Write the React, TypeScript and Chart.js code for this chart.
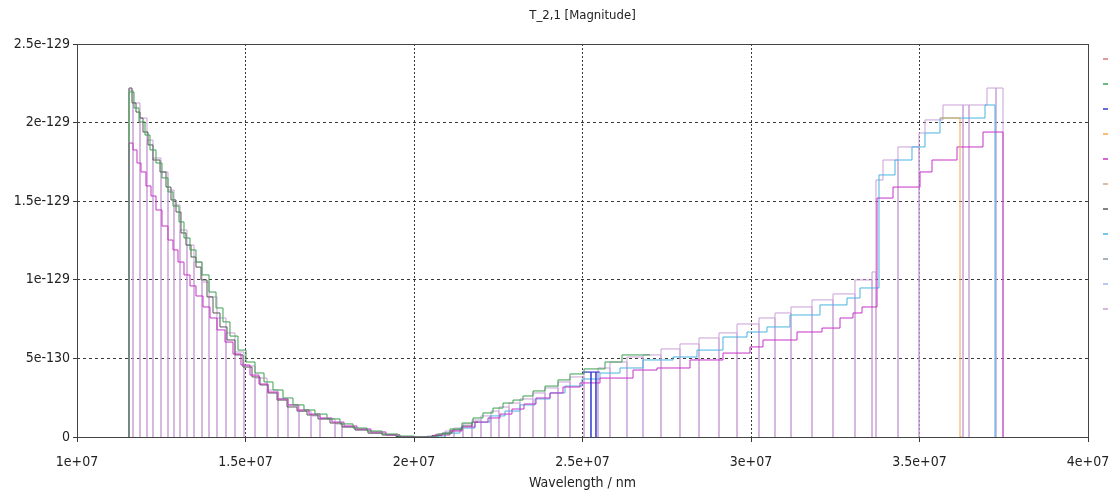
import React, { useEffect, useRef } from "react";
import { Chart, registerables } from "chart.js";

Chart.register(...registerables);

const TITLE = "T_2,1 [Magnitude]";
const X_TITLE = "Wavelength / nm";
const X_TICKS = [1e7, 1.5e7, 2e7, 2.5e7, 3e7, 3.5e7, 4e7];
const X_TICK_LABELS = ["1e+07", "1.5e+07", "2e+07", "2.5e+07", "3e+07", "3.5e+07", "4e+07"];
const Y_TICKS = [0, 5e-130, 1e-129, 1.5e-129, 2e-129, 2.5e-129];
const Y_TICK_LABELS = ["0", "5e-130", "1e-129", "1.5e-129", "2e-129", "2.5e-129"];

const SERIES_COLORS = [
  "#d87878", "#3ca050", "#2d3ccc", "#f0a848", "#c832c8", "#c8a890",
  "#585858", "#4ab4e0", "#8c9aa8", "#a8b4e8", "#c9a0d6",
];

// Dark gray series (step starts)
const GRAY_X = [
  1.1513e7, 1.1543e7, 1.1632e7, 1.1751e7, 1.1869e7, 1.1958e7, 1.2107e7, 1.2255e7, 1.2463e7, 1.2641e7,
  1.2789e7, 1.2938e7, 1.3086e7, 1.3234e7, 1.3383e7, 1.3531e7, 1.3680e7, 1.3858e7, 1.4036e7, 1.4243e7,
  1.4451e7, 1.4688e7, 1.4926e7, 1.5193e7, 1.5430e7, 1.5668e7, 1.5935e7, 1.6232e7, 1.6528e7, 1.6825e7,
  1.7151e7, 1.7508e7, 1.7864e7, 1.8249e7, 1.8635e7, 1.9051e7, 1.9466e7, 1.9881e7,
  2.0237e7, 2.0534e7, 2.0831e7, 2.1128e7, 2.1424e7, 2.1721e7, 2.1900e7,
];
const GRAY_Y = [
  0, 22.2e-130, 21.25e-130, 20.67e-130, 20.29e-130, 19.4e-130, 18.58e-130, 17.62e-130, 16.86e-130, 15.9e-130,
  15.08e-130, 14.31e-130, 12.98e-130, 12.21e-130, 11.45e-130, 10.81e-130, 9.99e-130, 8.91e-130, 7.89e-130, 7.0e-130,
  6.17e-130, 5.22e-130, 4.45e-130, 3.82e-130, 3.31e-130, 2.8e-130, 2.35e-130, 1.91e-130, 1.65e-130, 1.4e-130,
  1.15e-130, 0.89e-130, 0.64e-130, 0.45e-130, 0.25e-130, 0.13e-130, 0.03e-130, 0,
  0, 0.1e-130, 0.25e-130, 0.45e-130, 0.7e-130, 0.95e-130, 0.95e-130,
];

// Green series
const GREEN_X = [
  1.1513e7, 1.1543e7, 1.1691e7, 1.1840e7, 1.2018e7, 1.2166e7, 1.2344e7, 1.2522e7, 1.2700e7, 1.2849e7,
  1.3027e7, 1.3175e7, 1.3353e7, 1.3531e7, 1.3709e7, 1.3917e7, 1.4125e7, 1.4332e7, 1.4540e7, 1.4777e7,
  1.5015e7, 1.5282e7, 1.5549e7, 1.5816e7, 1.6113e7, 1.6409e7, 1.6736e7, 1.7062e7, 1.7418e7, 1.7804e7,
  1.8190e7, 1.8605e7, 1.9050e7, 1.9525e7, 2.0000e7,
  2.0712e7, 2.1068e7, 2.1424e7, 2.1751e7, 2.2047e7, 2.2344e7, 2.2641e7, 2.2938e7, 2.3234e7, 2.3531e7,
  2.3887e7, 2.4273e7, 2.4629e7, 2.5045e7, 2.5668e7, 2.6172e7, 2.7003e7,
];
const GREEN_Y = [
  0, 21.95e-130, 20.93e-130, 20.04e-130, 19.21e-130, 18.26e-130, 17.43e-130, 16.48e-130, 15.59e-130, 14.69e-130,
  13.68e-130, 12.66e-130, 11.9e-130, 11.13e-130, 10.31e-130, 9.22e-130, 8.21e-130, 7.32e-130, 6.42e-130, 5.53e-130,
  4.77e-130, 4.07e-130, 3.5e-130, 2.99e-130, 2.48e-130, 2.04e-130, 1.72e-130, 1.46e-130, 1.15e-130, 0.83e-130,
  0.57e-130, 0.38e-130, 0.19e-130, 0.06e-130, 0,
  0.19e-130, 0.51e-130, 0.89e-130, 1.21e-130, 1.53e-130, 1.84e-130, 2.16e-130, 2.35e-130, 2.61e-130, 2.93e-130,
  3.24e-130, 3.63e-130, 4.01e-130, 4.33e-130, 4.77e-130, 5.22e-130, 5.22e-130,
];

// Magenta series
const MAGENTA_X = [
  1.1513e7, 1.1543e7, 1.1662e7, 1.1780e7, 1.1899e7, 1.2047e7, 1.2196e7, 1.2344e7, 1.2522e7, 1.2700e7,
  1.2849e7, 1.2997e7, 1.3175e7, 1.3353e7, 1.3531e7, 1.3739e7, 1.3947e7, 1.4154e7, 1.4392e7, 1.4629e7,
  1.4866e7, 1.5134e7, 1.5401e7, 1.5668e7, 1.5964e7, 1.6261e7, 1.6558e7, 1.6884e7, 1.7211e7, 1.7567e7,
  1.7923e7, 1.8309e7, 1.8724e7, 1.9169e7, 1.9585e7, 2.0000e7,
  2.0237e7, 2.0623e7, 2.1068e7, 2.1424e7, 2.1810e7, 2.2196e7, 2.2552e7, 2.2908e7, 2.3264e7, 2.3620e7,
  2.4036e7, 2.4421e7, 2.4926e7, 2.5519e7, 2.6499e7, 2.7211e7, 2.8190e7, 2.9169e7, 2.9970e7, 3.0356e7,
  3.1365e7, 3.2107e7, 3.2641e7, 3.3027e7, 3.3294e7, 3.3739e7, 3.4214e7, 3.5015e7, 3.5371e7, 3.6113e7,
  3.6884e7, 3.7478e7,
];
const MAGENTA_Y = [
  0, 18.7e-130, 18.26e-130, 17.43e-130, 16.86e-130, 15.97e-130, 15.33e-130, 14.44e-130, 13.42e-130, 12.53e-130,
  11.9e-130, 11.13e-130, 10.31e-130, 9.61e-130, 8.97e-130, 8.27e-130, 7.57e-130, 6.81e-130, 6.04e-130, 5.28e-130,
  4.58e-130, 3.94e-130, 3.37e-130, 2.86e-130, 2.42e-130, 2.04e-130, 1.72e-130, 1.46e-130, 1.21e-130, 0.95e-130,
  0.7e-130, 0.51e-130, 0.32e-130, 0.13e-130, 0.03e-130, 0,
  0, 0.13e-130, 0.38e-130, 0.64e-130, 0.95e-130, 1.21e-130, 1.46e-130, 1.78e-130, 2.1e-130, 2.48e-130,
  2.8e-130, 3.18e-130, 3.44e-130, 3.75e-130, 4.26e-130, 4.39e-130, 4.9e-130, 5.34e-130, 5.73e-130, 6.17e-130,
  6.68e-130, 6.93e-130, 7.57e-130, 7.89e-130, 8.27e-130, 15.2e-130, 15.9e-130, 16.86e-130, 17.62e-130, 18.45e-130,
  19.4e-130, 0,
];

// Light-blue series
const SKY_X = [
  2.0326e7, 2.0920e7, 2.1365e7, 2.1810e7, 2.2255e7, 2.2700e7, 2.3145e7, 2.3591e7, 2.4036e7, 2.4481e7,
  2.4985e7, 2.5519e7, 2.6113e7, 2.6795e7, 2.7685e7, 2.8398e7, 2.9169e7, 2.9881e7, 3.0475e7, 3.1157e7,
  3.2047e7, 3.2849e7, 3.3234e7, 3.3798e7, 3.4273e7, 3.4777e7, 3.5163e7, 3.5608e7, 3.6944e7, 3.7240e7,
];
const SKY_Y = [
  0, 0.25e-130, 0.57e-130, 0.95e-130, 1.34e-130, 1.65e-130, 2.04e-130, 2.42e-130, 2.8e-130, 3.24e-130,
  3.69e-130, 4.07e-130, 4.39e-130, 4.9e-130, 5.09e-130, 5.53e-130, 6.36e-130, 6.68e-130, 7.0e-130, 7.76e-130,
  8.4e-130, 8.84e-130, 9.48e-130, 16.67e-130, 17.62e-130, 18.45e-130, 19.34e-130, 20.29e-130, 21.12e-130, 0,
];

// Blue series
const BLUE_X = [2.4985e7, 2.5252e7, 2.5252e7, 2.5400e7, 2.5400e7, 2.5519e7];
const BLUE_Y = [4.13e-130, 0, 4.13e-130, 0, 4.13e-130, 4.13e-130];

// Orange series
const ORANGE_X = [3.5608e7, 3.6202e7, 3.6260e7];
const ORANGE_Y = [20.29e-130, 0, 0];

// Lilac series (step starts) and the wavelengths where it dips to zero
const LILAC_X = [
  1.1513e7, 1.1662e7, 1.1869e7, 1.2077e7, 1.2255e7, 1.2493e7, 1.2700e7, 1.2878e7, 1.3056e7, 1.3264e7,
  1.3472e7, 1.3709e7, 1.3917e7, 1.4154e7, 1.4421e7, 1.4688e7, 1.4955e7, 1.5282e7, 1.5638e7, 1.5964e7,
  1.6261e7, 1.6588e7, 1.6944e7, 1.7211e7, 1.7656e7, 1.7864e7, 1.8249e7, 1.8694e7, 1.9139e7, 1.9585e7,
  2.0030e7,
  2.0386e7, 2.0653e7, 2.0920e7, 2.1187e7, 2.1454e7, 2.1721e7, 2.1988e7, 2.2285e7, 2.2522e7, 2.2819e7,
  2.3145e7, 2.3531e7, 2.3887e7, 2.4273e7, 2.4629e7, 2.5045e7, 2.5460e7, 2.5816e7, 2.6320e7, 2.6795e7,
  2.7329e7, 2.7893e7, 2.8457e7, 2.9050e7, 2.9585e7, 3.0237e7, 3.0712e7, 3.1187e7, 3.1810e7, 3.2433e7,
  3.3086e7, 3.3591e7, 3.3709e7, 3.3917e7, 3.4362e7, 3.4985e7, 3.5163e7, 3.5697e7, 3.6291e7, 3.6469e7,
  3.7003e7, 3.7270e7, 3.7478e7,
];
const LILAC_Y = [
  22.07e-130, 21.25e-130, 20.29e-130, 18.89e-130, 17.75e-130, 16.86e-130, 15.71e-130, 14.76e-130, 13.17e-130, 12.21e-130,
  11.13e-130, 9.86e-130, 8.91e-130, 7.57e-130, 6.62e-130, 5.41e-130, 4.52e-130, 3.75e-130, 2.99e-130, 2.42e-130,
  2.04e-130, 1.65e-130, 1.34e-130, 1.15e-130, 0.83e-130, 0.64e-130, 0.45e-130, 0.25e-130, 0.13e-130, 0.03e-130,
  0,
  0.06e-130, 0.19e-130, 0.38e-130, 0.57e-130, 0.83e-130, 1.08e-130, 1.34e-130, 1.65e-130, 1.91e-130, 2.16e-130,
  2.42e-130, 2.8e-130, 3.12e-130, 3.5e-130, 3.82e-130, 4.13e-130, 4.39e-130, 4.77e-130, 5.09e-130, 5.22e-130,
  5.6e-130, 5.92e-130, 6.3e-130, 6.62e-130, 7.19e-130, 7.57e-130, 7.89e-130, 8.27e-130, 8.72e-130, 9.1e-130,
  9.99e-130, 10.5e-130, 16.35e-130, 17.62e-130, 18.45e-130, 19.34e-130, 20.17e-130, 21.12e-130, 21.12e-130, 21.12e-130,
  22.2e-130, 22.2e-130, 0,
];
const LILAC_DIPS = [
  1.1662e7, 1.1869e7, 1.2077e7, 1.2255e7, 1.2493e7, 1.2700e7, 1.2878e7, 1.3056e7, 1.3264e7,
  1.3472e7, 1.3709e7, 1.3917e7, 1.4154e7, 1.4421e7, 1.4688e7, 1.4955e7, 1.5282e7, 1.5638e7, 1.5964e7,
  1.6261e7, 1.6588e7, 1.6944e7, 1.7211e7, 1.7656e7, 1.7864e7,
  2.0386e7, 2.0653e7, 2.0920e7, 2.1187e7, 2.1454e7, 2.1721e7, 2.1988e7, 2.2285e7, 2.2522e7, 2.2819e7,
  2.3145e7, 2.3531e7, 2.3887e7, 2.4273e7, 2.4629e7, 2.5045e7, 2.5460e7, 2.5816e7, 2.6320e7, 2.6795e7,
  2.7329e7, 2.7893e7, 2.8457e7, 2.9050e7, 2.9585e7, 3.0237e7, 3.0712e7, 3.1187e7, 3.1810e7, 3.2433e7,
  3.3086e7, 3.3591e7, 3.3709e7, 3.4362e7, 3.4985e7, 3.6291e7, 3.6469e7, 3.7270e7,
];

type P = { x: number; y: number };
const toPoints = (xs: number[], ys: number[]): P[] => xs.map((x, i) => ({ x, y: ys[i] }));
const withDips = (xs: number[], ys: number[], dips: number[]): P[] => {
  const out: P[] = [];
  xs.forEach((x, i) => {
    if (dips.includes(x)) out.push({ x, y: 0 });
    out.push({ x, y: ys[i] });
  });
  return out;
};

const SERIES_DATA: P[][] = [
  [],
  toPoints(GREEN_X, GREEN_Y),
  toPoints(BLUE_X, BLUE_Y),
  toPoints(ORANGE_X, ORANGE_Y),
  toPoints(MAGENTA_X, MAGENTA_Y),
  [],
  toPoints(GRAY_X, GRAY_Y),
  toPoints(SKY_X, SKY_Y),
  [],
  [],
  withDips(LILAC_X, LILAC_Y, LILAC_DIPS),
];

const FONT_FAMILY = "'DejaVu Sans Condensed', 'DejaVu Sans', sans-serif";
const TEXT_COLOR = "#222";
const GRID_COLOR = "#3a3a3a";

const decorPlugin = {
  id: "decor",
  afterDraw(chart: any) {
    const { ctx, chartArea } = chart;
    const { left, right, top, bottom } = chartArea;
    ctx.save();
    ctx.strokeStyle = "#444";
    ctx.lineWidth = 1;
    ctx.setLineDash([]);
    ctx.strokeRect(Math.round(left) + 0.5, Math.round(top) + 0.5, Math.round(right - left), Math.round(bottom - top));
    ctx.fillStyle = TEXT_COLOR;
    ctx.font = `13px ${FONT_FAMILY}`;
    ctx.textAlign = "center";
    ctx.textBaseline = "middle";
    ctx.fillText(TITLE, (left + right) / 2, 16);
    SERIES_COLORS.forEach((c, i) => {
      ctx.strokeStyle = c;
      ctx.lineWidth = 1.5;
      ctx.beginPath();
      const y = 59 + 25 * i;
      ctx.moveTo(1103, y);
      ctx.lineTo(1108, y);
      ctx.stroke();
    });
    ctx.restore();
  },
};

export default function App() {
  const ref = useRef<HTMLCanvasElement | null>(null);
  useEffect(() => {
    if (!ref.current) return;
    const chart = new Chart(ref.current, {
      type: "line",
      data: {
        datasets: SERIES_DATA.map((d, i) => ({
          label: `S${i + 1}`,
          data: d,
          borderColor: SERIES_COLORS[i],
          backgroundColor: SERIES_COLORS[i],
          borderWidth: 1,
          pointRadius: 0,
          stepped: true,
          fill: false,
        })),
      },
      options: {
        responsive: false,
        animation: false,
        events: [],
        layout: { padding: { left: 0, right: 29, top: 44, bottom: 0 } },
        plugins: { legend: { display: false }, tooltip: { enabled: false }, title: { display: false } },
        scales: {
          x: {
            type: "linear",
            min: 1e7,
            max: 4e7,
            afterBuildTicks: (s: any) => {
              s.ticks = X_TICKS.map((v) => ({ value: v }));
            },
            afterFit: (s: any) => {
              s.height = 58;
              s.paddingLeft = 0;
              s.paddingRight = 0;
            },
            ticks: {
              autoSkip: false,
              maxRotation: 0,
              padding: 12,
              color: TEXT_COLOR,
              font: { family: FONT_FAMILY, size: 14 },
              callback: (_v: any, i: number) => X_TICK_LABELS[i],
            },
            grid: { color: GRID_COLOR, lineWidth: 1, tickLength: 5 },
            border: { display: false, dash: [2, 2] },
            title: {
              display: true,
              text: X_TITLE,
              color: TEXT_COLOR,
              font: { family: FONT_FAMILY, size: 14 },
              padding: { top: 0, bottom: 3 },
            },
          },
          y: {
            type: "linear",
            min: 0,
            max: 2.5e-129,
            afterBuildTicks: (s: any) => {
              s.ticks = Y_TICKS.map((v) => ({ value: v }));
            },
            afterFit: (s: any) => {
              s.width = 77;
              s.paddingTop = 0;
              s.paddingBottom = 0;
            },
            ticks: {
              autoSkip: false,
              padding: 3,
              color: TEXT_COLOR,
              font: { family: FONT_FAMILY, size: 14 },
              callback: (_v: any, i: number) => Y_TICK_LABELS[i],
            },
            grid: { color: GRID_COLOR, lineWidth: 1, tickLength: 4 },
            border: { display: false, dash: [3, 3] },
          },
        },
      },
      plugins: [decorPlugin],
    });
    return () => chart.destroy();
  }, []);
  return (
    <div style={{ position: "fixed", left: 0, top: 0, width: 1117, height: 495, background: "#fff" }}>
      <canvas ref={ref} width={1117} height={495} style={{ display: "block" }} />
    </div>
  );
}
